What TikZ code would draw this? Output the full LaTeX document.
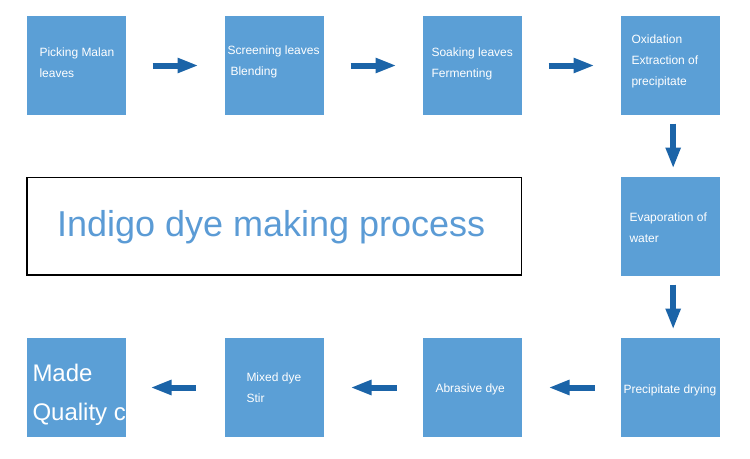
\documentclass[tikz,border=0pt]{standalone}
\usepackage{fontspec}
\setmainfont{Liberation Sans}
\usetikzlibrary{arrows.meta}

\definecolor{boxblue}{RGB}{91,159,214}
\definecolor{arrowblue}{RGB}{27,100,168}
\definecolor{titleblue}{RGB}{91,155,213}

\tikzset{every picture/.style={line width=0.75pt}}
\tikzset{
  stepbox/.style={fill=boxblue,draw=none,inner sep=0pt,minimum width=74.25pt,minimum height=74.25pt},
  steptext/.style={anchor=base west,inner sep=0pt,text=white,align=left,font=\fontsize{9}{15.5}\selectfont},
  flow/.style={draw=arrowblue,line width=4.5pt,-{Triangle[width=10.5pt,length=15.75pt]},shorten <=19.5pt,shorten >=19.5pt},
  flowdown/.style={draw=arrowblue,line width=4.5pt,-{Triangle[width=10.5pt,length=15.75pt]},shorten <=6pt,shorten >=6pt}
}

\begin{document}
\begin{tikzpicture}[x=0.75pt,y=0.75pt,yscale=-1,xscale=1]
\useasboundingbox (0,0) rectangle (750,458);

%Shape: Rectangle [id:b1]
\node [stepbox] (b1) at (76.5,65.5) {};
%Shape: Rectangle [id:b2]
\node [stepbox] (b2) at (274.5,65.5) {};
%Shape: Rectangle [id:b3]
\node [stepbox] (b3) at (472.5,65.5) {};
%Shape: Rectangle [id:b4]
\node [stepbox] (b4) at (670.5,65.5) {};
%Shape: Rectangle [id:b5]
\node [stepbox] (b5) at (670.5,226.5) {};
%Shape: Rectangle [id:b9]
\node [stepbox] (b9) at (670.5,387.5) {};
%Shape: Rectangle [id:b8]
\node [stepbox] (b8) at (472.5,387.5) {};
%Shape: Rectangle [id:b7]
\node [stepbox] (b7) at (274.5,387.5) {};
%Shape: Rectangle [id:b6]
\node [stepbox] (b6) at (76.5,387.5) {};

%Shape: Rectangle [id:title]
\draw  [draw=black,line width=0.9pt] (27,177.5) rectangle (521.5,275) ;

%Block arrows
\draw [flow] (b1) -- (b2) ;
\draw [flow] (b2) -- (b3) ;
\draw [flow] (b3) -- (b4) ;
\draw [flowdown] ([xshift=2pt]b4.south) -- ([xshift=2pt]b5.north) ;
\draw [flowdown] ([xshift=2pt]b5.south) -- ([xshift=2pt]b9.north) ;
\draw [flow] (b9) -- (b8) ;
\draw [flow] (b8) -- (b7) ;
\draw [flow,shorten <=21.5pt,shorten >=18pt] (b7) -- (b6) ;

% Text Node
\node [steptext] (t1) at (39,77) {Picking Malan\\leaves};
% Text Node
\node [steptext] (t2) at (227,75) {Screening leaves\\\hspace{2.25pt}Blending};
% Text Node
\node [steptext] (t3) at (431,77) {Soaking leaves\\Fermenting};
% Text Node
\node [steptext] (t4) at (631,85) {Oxidation\\Extraction of\\precipitate};
% Text Node
\node [steptext] (t5) at (629,242) {Evaporation of\\water};
% Text Node
\node [steptext] (t9) at (623,393) {Precipitate drying};
% Text Node
\node [steptext] (t8) at (435,392) {Abrasive dye};
% Text Node
\node [steptext] (t7) at (246,402) {Mixed dye\\Stir};
% Text Node
\begin{scope}
\clip (b6.north west) rectangle (b6.south east);
\node [steptext,font=\fontsize{18}{29}\selectfont] (t6) at (32,420) {Made\\Quality control};
\end{scope}
% Text Node
\node [anchor=base west,inner sep=0pt,text=titleblue,font=\fontsize{27}{32}\selectfont] (title) at (56.5,236) {Indigo dye making process};
\end{tikzpicture}
\end{document}
